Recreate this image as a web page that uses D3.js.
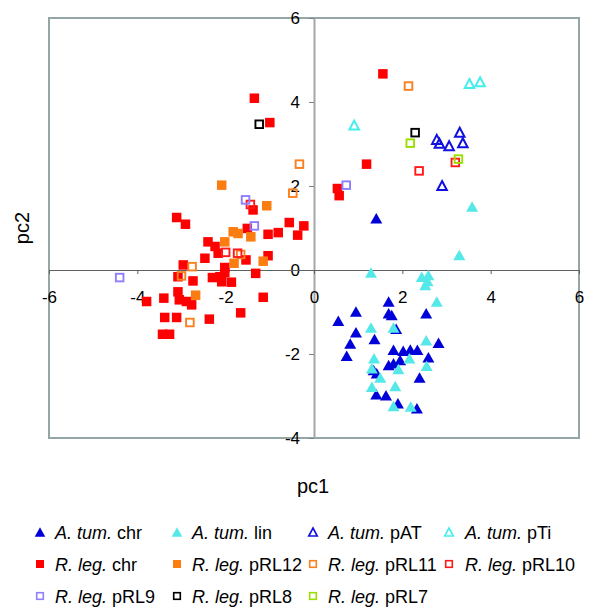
<!DOCTYPE html>
<html><head><meta charset="utf-8">
<script src="https://cdn.jsdelivr.net/npm/d3@7"></script>
<style>
body{margin:0;background:#fff}
svg{display:block;font-family:"Liberation Sans",Arial,Helvetica,sans-serif}
</style>
</head><body>
<svg id="c" width="600" height="615"></svg>
<script>
const xTicks = [-6, -4, -2, 0, 2, 4, 6];
const yTicks = [-4, -2, 0, 2, 4, 6];

const atumChr = [[1.41,1.23],[1.69,-0.75],[0.95,-0.99],[0.55,-1.21],[1.69,-1.03],[1.76,-1.07],[2.54,-1.03],[1.86,-1.40],[0.95,-1.48],[1.37,-1.64],[2.82,-1.73],[0.82,-1.75],[0.74,-2.04],[1.80,-1.90],[2.02,-1.92],[2.18,-1.89],[2.34,-1.90],[2.59,-2.08],[1.69,-2.26],[1.80,-2.22],[1.95,-2.14],[1.35,-2.38],[1.42,-2.46],[2.39,-2.56],[1.41,-2.96],[1.63,-2.98],[1.90,-3.17],[2.33,-3.29]];
const atumLin = [[3.58,1.51],[3.29,0.36],[1.29,-0.06],[2.44,-0.16],[2.59,-0.12],[2.52,-0.36],[2.57,-0.26],[2.78,-0.75],[1.29,-1.37],[1.80,-1.37],[2.54,-1.67],[2.16,-2.10],[1.36,-2.10],[1.91,-2.36],[2.55,-2.28],[1.31,-2.34],[1.50,-2.56],[1.31,-2.78],[1.84,-2.76],[1.80,-3.24],[2.19,-3.25]];
const atumPAT = [[2.78,3.11],[2.84,3.02],[3.06,2.96],[3.30,3.28],[3.37,3.03],[2.90,2.01]];
const atumPTi = [[0.91,3.45],[3.52,4.44],[3.76,4.48]];
const rlegChr = [[-1.35,4.09],[-1.0,3.51],[1.56,4.67],[1.19,2.52],[0.53,1.94],[0.57,1.77],[-1.38,1.43],[-3.11,1.25],[-2.91,1.09],[-1.51,0.99],[-0.56,1.13],[-0.23,1.05],[-1.04,0.85],[-0.81,0.89],[-0.37,0.83],[-2.40,0.67],[-2.24,0.56],[-2.17,0.40],[-1.54,0.24],[-1.04,0.34],[-2.47,0.28],[-2.96,0.12],[-2.02,0.06],[-1.32,-0.08],[-3.08,-0.16],[-2.74,-0.26],[-2.30,-0.18],[-2.13,-0.16],[-2.09,-0.28],[-1.87,-0.29],[-2.02,-0.06],[-3.08,-0.52],[-3.05,-0.71],[-1.15,-0.65],[-3.40,-0.67],[-3.79,-0.75],[-2.89,-0.75],[-2.77,-0.83],[-1.66,-1.02],[-3.38,-1.13],[-3.11,-1.13],[-2.37,-1.17],[-3.43,-1.53],[-3.27,-1.53]];
const rlegPRL12 = [[-2.09,2.02],[-1.07,1.53],[-1.83,0.91],[-1.72,0.87],[-1.43,0.79],[-2.02,0.67],[-1.81,0.16],[-1.15,0.21],[-2.68,-0.60]];
const rlegPRL11 = [[2.14,4.38],[-0.33,2.52],[-0.48,1.83],[-2.76,0.08],[-3.0,-0.14],[-2.81,-1.25],[-1.66,0.37]];
const rlegPRL10 = [[-1.44,1.56],[-2.0,0.42],[-1.73,0.40],[2.38,2.36],[3.20,2.56]];
const rlegPRL9 = [[-1.55,1.67],[-1.35,1.05],[-4.40,-0.18],[0.73,2.02]];
const rlegPRL8 = [[-1.24,3.47],[2.29,3.27]];
const rlegPRL7 = [[2.18,3.02],[3.27,2.64]];

const seriesGenus = ["A. tum.","A. tum.","A. tum.","A. tum.","R. leg.","R. leg.","R. leg.","R. leg.","R. leg.","R. leg.","R. leg."];
const seriesNames = [" chr"," lin"," pAT"," pTi"," chr"," pRL12"," pRL11"," pRL10"," pRL9"," pRL8"," pRL7"];
const seriesColors = ["#0000d8","#55e8e8","#1010e0","#45eeee","#ff0000","#fb7d12","#f98020","#ff1a1a","#8f7fff","#000000","#99e000"];
const seriesShapes = ["triF","triF","triO","triO","sqF","sqF","sqO","sqO","sqO","sqO","sqO"];
const seriesData = [atumChr, atumLin, atumPAT, atumPTi, rlegChr, rlegPRL12, rlegPRL11, rlegPRL10, rlegPRL9, rlegPRL8, rlegPRL7];

const series = seriesData.map((d,i)=>({data:d, genus:seriesGenus[i], name:seriesNames[i], color:seriesColors[i], shape:seriesShapes[i]}));

const svg = d3.select("#c");
const L = 49, R = 579, T = 18, B = 438;
const x = d3.scaleLinear().domain([-6,6]).range([L,R]);
const y = d3.scaleLinear().domain([-4,6]).range([B,T]);

// frame
svg.append("rect").attr("x",L).attr("y",T).attr("width",R-L).attr("height",B-T)
  .attr("fill","#fff").attr("stroke","#95a6a6").attr("stroke-width",2);

// y axis at x=0
const yAxis = svg.append("g").attr("transform",`translate(${x(0)},0)`)
  .call(d3.axisLeft(y).tickValues(yTicks).tickSize(5).tickSizeOuter(0).tickPadding(9).tickFormat(d=>String(d)));
yAxis.attr("font-family",null);
yAxis.select(".domain").attr("stroke","#a6a6a6").attr("stroke-width",2);
yAxis.selectAll(".tick line").attr("stroke","#808080");
yAxis.selectAll(".tick text").attr("font-size",17).attr("fill","#000");

// x axis at y=0
const xAxis = svg.append("g").attr("transform",`translate(0,${y(0)})`)
  .call(d3.axisBottom(x).tickValues(xTicks).tickSize(4).tickSizeOuter(0).tickPadding(17).tickFormat(d=>String(d)));
xAxis.attr("font-family",null);
xAxis.select(".domain").attr("stroke","#606060").attr("stroke-width",1);
xAxis.selectAll(".tick line").attr("stroke","#606060");
xAxis.selectAll(".tick text").attr("font-size",17).attr("fill","#000");

function triPath(cx, cy, w, h){
  return `M${cx},${cy-h/2}L${cx+w/2},${cy+h/2}L${cx-w/2},${cy+h/2}Z`;
}
function drawMarker(g, shape, color, cx, cy, big){
  if(shape==="triF"){
    const w = big?12:10.5, h = big?10.5:9.5;
    g.append("path").attr("d",triPath(cx,cy,w,h)).attr("fill",color);
  } else if(shape==="triO"){
    const w = big?9.5:8.5, h = big?9:8;
    g.append("path").attr("d",triPath(cx,cy,w,h)).attr("fill","none").attr("stroke",color).attr("stroke-width",big?2:1.6);
  } else if(shape==="sqF"){
    const s = big?9.5:8;
    g.append("rect").attr("x",cx-s/2).attr("y",cy-s/2).attr("width",s).attr("height",s).attr("fill",color);
  } else {
    const s = big?7.6:6.6;
    g.append("rect").attr("x",cx-s/2).attr("y",cy-s/2).attr("width",s).attr("height",s).attr("fill","none").attr("stroke",color).attr("stroke-width",big?1.9:1.6);
  }
}

const pts = svg.append("g");
series.forEach(s=>{
  const g = pts.append("g");
  s.data.forEach(d=> drawMarker(g, s.shape, s.color, x(d[0]), y(d[1]), true));
});

// axis titles
svg.append("text").attr("x",313).attr("y",493).attr("text-anchor","middle").attr("font-size",20).text("pc1");
svg.append("text").attr("transform","translate(29,228) rotate(-90)").attr("text-anchor","middle").attr("font-size",20).text("pc2");

// legend
const colMarker = [40,177,313,449];
const colText = [55,192,328,465];
const rowY = [532,564,596];
const leg = svg.append("g");
series.forEach((s,i)=>{
  const r = Math.floor(i/4), c = i%4;
  drawMarker(leg, s.shape, s.color, colMarker[c], rowY[r], false);
  const t = leg.append("text").attr("x",colText[c]).attr("y",rowY[r]+6.5).attr("font-size",18).attr("fill","#000");
  t.append("tspan").attr("font-style","italic").text(s.genus);
  t.append("tspan").text(s.name);
});
</script>
</body></html>
